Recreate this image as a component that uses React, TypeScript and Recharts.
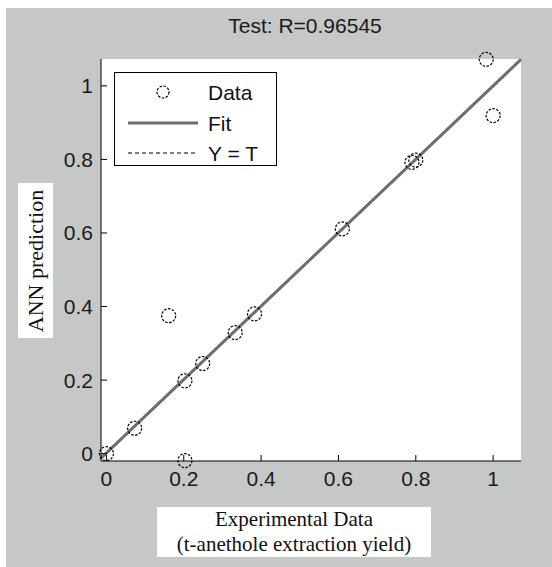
import React from 'react';
import {
  ScatterChart,
  Scatter,
  XAxis,
  YAxis,
  CartesianGrid,
  ReferenceLine,
  Legend,
} from 'recharts';

// experimental data (targets) vs ANN prediction, test set
const targets = [0, 0.073, 0.161, 0.203, 0.203, 0.249, 0.333, 0.383, 0.61, 0.79, 0.8, 0.982, 1.0];
const predictions = [0, 0.069, 0.375, 0.198, -0.019, 0.245, 0.329, 0.38, 0.611, 0.792, 0.798, 1.072, 0.919];

const fitT = [-0.014, 1.072];
const fitY = [-0.012, 1.072];
const axisTicks = [0, 0.2, 0.4, 0.6, 0.8, 1];
const xDomain = [-0.014, 1.072];
const yDomain = [-0.02, 1.073];

const points = targets.map((t, i) => ({ t, y: predictions[i] }));
const fitSegment = fitT.map((t, i) => ({ x: t, y: fitY[i] }));
const identitySegment = fitT.map((t) => ({ x: t, y: t }));

const SANS = '"Liberation Sans", Arial, sans-serif';
const SERIF = '"Liberation Serif", "Times New Roman", serif';
const GRAY = '#c6c7c7';
const FIT = '#6e6e6e';

const fmt = (v: number) => String(v);

const Circle = (props: any) => {
  const { cx, cy } = props;
  if (cx == null || cy == null) return null;
  return <circle cx={cx} cy={cy} r={7} fill="none" stroke="#000" strokeWidth={1.2} strokeDasharray="2.5 1.5" />;
};

const LegendBox = () => (
  <div style={{ width: 161, height: 92, background: '#fff', border: '1px solid #000', fontFamily: SANS, fontSize: 20, color: '#111' }}>
    <svg width={161} height={92} style={{ position: 'absolute', left: 1, top: 1 }}>
      <circle cx={48} cy={19} r={6} fill="none" stroke="#000" strokeWidth={1.2} strokeDasharray="2.5 1.5" />
      <line x1={13} x2={83} y1={50} y2={50} stroke={FIT} strokeWidth={3} />
      <line x1={13} x2={83} y1={80} y2={80} stroke="#000" strokeWidth={1} strokeDasharray="4 3" />
      <text x={93} y={27} fontFamily={SANS} fontSize={21} fill="#111">Data</text>
      <text x={93} y={58} fontFamily={SANS} fontSize={21} fill="#111">Fit</text>
      <text x={93} y={88} fontFamily={SANS} fontSize={21} fill="#111">Y = T</text>
    </svg>
  </div>
);

export default function App() {
  const tickStyle = { fill: '#1a1a1a', fontSize: 21, fontFamily: SANS };
  return (
    <div style={{ position: 'absolute', left: 0, top: 0, width: 552, height: 567, background: '#fff' }}>
      <div style={{ position: 'absolute', left: 6, top: 8, width: 546, height: 559, background: GRAY }} />
      <div
        style={{
          position: 'absolute',
          left: 205,
          top: 14,
          width: 200,
          textAlign: 'center',
          fontFamily: SANS,
          fontSize: 21,
          color: '#1a1a1a',
        }}
      >
        Test: R=0.96545
      </div>
      <div
        style={{
          position: 'absolute',
          left: 157,
          top: 507,
          width: 274,
          height: 50,
          background: '#fff',
          fontFamily: SERIF,
          fontSize: 21,
          lineHeight: '25px',
          textAlign: 'center',
          color: '#111',
        }}
      >
        Experimental Data
        <br />
        (t-anethole extraction yield)
      </div>
      <div
        style={{
          position: 'absolute',
          left: 18,
          top: 183,
          width: 35,
          height: 155,
          background: '#fff',
        }}
      >
        <div
          style={{
            position: 'absolute',
            left: '50%',
            top: '50%',
            transform: 'translate(-50%, -50%) rotate(-90deg)',
            whiteSpace: 'nowrap',
            fontFamily: SERIF,
            fontSize: 22,
            color: '#111',
          }}
        >
          ANN prediction
        </div>
      </div>
      <div style={{ position: 'absolute', left: 0, top: 0 }}>
        <ScatterChart width={552} height={567} margin={{ top: 59, right: 31, bottom: 76, left: 61 }}>
          <CartesianGrid horizontal={false} vertical={false} fill="#fff" />
          <XAxis
            xAxisId="b"
            type="number"
            dataKey="t"
            domain={xDomain}
            ticks={axisTicks}
            tickFormatter={fmt}
            height={30}
            stroke="#000"
            tickSize={-6}
            tickMargin={16}
            tick={tickStyle}
          />
          <XAxis
            xAxisId="top"
            orientation="top"
            type="number"
            dataKey="t"
            domain={xDomain}
            ticks={axisTicks}
            tickFormatter={() => ''}
            height={0}
            stroke="#000"
            tickSize={-6}
          />
          <YAxis
            yAxisId="l"
            type="number"
            dataKey="y"
            domain={yDomain}
            ticks={axisTicks}
            tickFormatter={fmt}
            width={40}
            stroke="#000"
            tickSize={-6}
            tickMargin={14}
            tick={tickStyle}
          />
          <YAxis
            yAxisId="r"
            orientation="right"
            type="number"
            dataKey="y"
            domain={yDomain}
            ticks={axisTicks}
            tickFormatter={() => ''}
            width={0}
            stroke="#000"
            tickSize={-6}
          />
          <ReferenceLine
            xAxisId="b"
            yAxisId="l"
            segment={identitySegment}
            stroke="#000"
            strokeDasharray="4 3"
            ifOverflow="visible"
          />
          <ReferenceLine
            xAxisId="b"
            yAxisId="l"
            segment={fitSegment}
            stroke={FIT}
            strokeWidth={3}
            ifOverflow="visible"
          />
          <Scatter
            xAxisId="b"
            yAxisId="l"
            data={points}
            shape={Circle}
            isAnimationActive={false}
          />
          <Legend
            layout="horizontal"
            verticalAlign="middle"
            content={() => <LegendBox />}
            wrapperStyle={{ left: 114, top: 72, width: 163, height: 94 }}
          />
        </ScatterChart>
      </div>
    </div>
  );
}
